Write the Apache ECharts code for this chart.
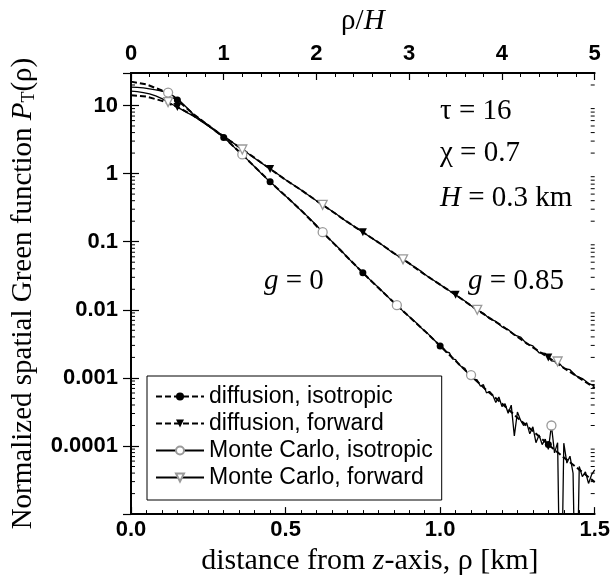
<!DOCTYPE html>
<html>
<head>
<meta charset="utf-8">
<script src="https://cdn.jsdelivr.net/npm/echarts@6/dist/echarts.min.js"></script>
<style>
  html, body { margin: 0; padding: 0; background: #fff; }
  #main { width: 613px; height: 581px; }
</style>
</head>
<body>
<div id="main"></div>
<script>
// Radial distance grids (km)
const rhoDiff = [0, 0.05, 0.1, 0.15, 0.2, 0.25, 0.3, 0.35, 0.4, 0.45, 0.5, 0.55, 0.6, 0.65, 0.7, 0.75,
  0.8, 0.85, 0.9, 0.95, 1.0, 1.05, 1.1, 1.15, 1.2, 1.25, 1.3, 1.35, 1.4, 1.45, 1.5];

// Diffusion approximation, isotropic scattering (g = 0)
const diffIso = [22.4, 20.4, 16.6, 12.0, 7.6, 5.1, 3.4, 2.1, 1.26, 0.76, 0.47, 0.29, 0.17, 0.10, 0.059, 0.035,
  0.021, 0.0129, 0.0079, 0.0049, 0.00295, 0.00178, 0.00107, 0.00066, 0.00042, 0.00026, 0.000166, 0.000105,
  0.000068, 0.000045, 0.0000295];

// Diffusion approximation, forward scattering (g = 0.85)
const diffFwd = [14.1, 13.5, 11.7, 9.5, 7.2, 5.1, 3.5, 2.45, 1.70, 1.17, 0.81, 0.575, 0.40, 0.28, 0.195, 0.138,
  0.098, 0.068, 0.048, 0.033, 0.0234, 0.0166, 0.0115, 0.0081, 0.0058, 0.0040, 0.0028, 0.0020, 0.0014, 0.0010,
  0.00071];

// Monte Carlo, isotropic scattering
const rhoMcIso = [0, 0.02, 0.04, 0.06, 0.08, 0.1, 0.12, 0.14, 0.16, 0.18, 0.2, 0.22, 0.24, 0.26, 0.28, 0.3,
  0.32, 0.34, 0.36, 0.38, 0.4, 0.42, 0.44, 0.46, 0.48, 0.5, 0.52, 0.54, 0.56, 0.58, 0.6, 0.62, 0.64, 0.66,
  0.68, 0.7, 0.72, 0.74, 0.76, 0.78, 0.8, 0.82, 0.84, 0.86, 0.88, 0.9, 0.92, 0.94, 0.96, 0.98, 1.0,
  1.01, 1.02, 1.03, 1.04, 1.05, 1.06, 1.07, 1.08, 1.09, 1.1, 1.11, 1.12, 1.13, 1.14, 1.15, 1.16, 1.17,
  1.18, 1.19, 1.2, 1.21, 1.22, 1.23, 1.24, 1.25, 1.26, 1.27, 1.28, 1.29, 1.3, 1.31, 1.32, 1.33, 1.34,
  1.35, 1.36, 1.37, 1.38, 1.39, 1.4, 1.41, 1.42, 1.43, 1.44, 1.45, 1.46, 1.47, 1.48, 1.49, 1.5];
const mcIso = [18.6, 18.4, 18.2, 17.6, 17.0, 16.2, 15.5, 13.5, 11.5, 9.33, 7.59, 6.46, 5.50, 4.68, 3.98, 3.39,
  2.82, 2.29, 1.91, 1.55, 1.26, 1.02, 0.832, 0.692, 0.562, 0.468, 0.389, 0.316, 0.263, 0.214, 0.174, 0.138,
  0.112, 0.0912, 0.0741, 0.0589, 0.0479, 0.0389, 0.0316, 0.0257, 0.0214, 0.0174, 0.0141, 0.0117, 0.00955,
  0.00794, 0.00661, 0.00537, 0.00447, 0.00363, 0.00295,
  0.00275, 0.00240, 0.00234, 0.00191, 0.00186, 0.00158, 0.00145, 0.00138, 0.00112, 0.00110, 0.000955,
  0.000933, 0.000759, 0.000794, 0.000603, 0.000631, 0.000562, 0.000437, 0.000525, 0.000380, 0.000417,
  0.000302, 0.000398, 0.000141, 0.000316, 0.000240, 0.000200, 0.000219, 0.000151, 0.000191, 0.000112,
  0.000145, 0.000105, 0.000126, 0.0000891, 0.000200, 0.0000794, 0.000112, 1e-7, 0.000110, 0.0000562,
  0.0000708, 0.0000398, 1e-7, 0.0000501, 0.0000355, 0.0000417, 0.0000282, 0.0000380, 0.0000447];

// Monte Carlo, forward scattering
const rhoMcFwd = [0, 0.02, 0.04, 0.06, 0.08, 0.1, 0.12, 0.14, 0.16, 0.18, 0.2, 0.22, 0.24, 0.26, 0.28, 0.3,
  0.32, 0.34, 0.36, 0.38, 0.4, 0.42, 0.44, 0.46, 0.48, 0.5, 0.52, 0.54, 0.56, 0.58, 0.6, 0.62, 0.64, 0.66,
  0.68, 0.7, 0.72, 0.74, 0.76, 0.78, 0.8, 0.82, 0.84, 0.86, 0.88, 0.9, 0.92, 0.94, 0.96, 0.98, 1.0, 1.02,
  1.04, 1.06, 1.08, 1.1, 1.12, 1.14, 1.16, 1.18, 1.2, 1.22, 1.24, 1.26, 1.28, 1.3, 1.32, 1.34, 1.36, 1.38,
  1.4, 1.42, 1.44, 1.46, 1.48, 1.5];
const mcFwd = [16.2, 16.0, 15.5, 14.8, 13.8, 12.6, 11.2, 10.0, 8.91, 7.94, 7.08, 6.17, 5.37, 4.68, 4.07, 3.55,
  3.05, 2.63, 2.26, 1.95, 1.68, 1.45, 1.26, 1.10, 0.944, 0.813, 0.708, 0.617, 0.537, 0.462, 0.398, 0.347,
  0.302, 0.263, 0.224, 0.195, 0.170, 0.148, 0.129, 0.112, 0.0977, 0.0851, 0.0724, 0.0631, 0.0550, 0.0479,
  0.0417, 0.0363, 0.0309, 0.0269, 0.0234, 0.0204, 0.0178, 0.0155, 0.0135, 0.0115, 0.0100, 0.00891, 0.00741,
  0.00676, 0.00562, 0.00513, 0.00427, 0.00398, 0.00316, 0.00295, 0.00234, 0.00229, 0.00178, 0.00174,
  0.00138, 0.00132, 0.00107, 0.000977, 0.000832, 0.000759];

// Positions (km) where each curve carries a symbol
const diffIsoMarks = [0.15, 0.3, 0.45, 0.75, 1.0, 1.35];
const diffFwdMarks = [0.15, 0.45, 0.75, 1.05, 1.35];
const mcIsoMarks = [0.12, 0.36, 0.62, 0.86, 1.1, 1.36];
const mcFwdMarks = [0.12, 0.36, 0.62, 0.88, 1.12, 1.38];

// Axis tick labels
const yTickLabels = { '-4': '0.0001', '-3': '0.001', '-2': '0.01', '-1': '0.1', '0': '1', '1': '10' };
const bottomTickLabels = ['0.0', '0.5', '1.0', '1.5'];
const topTickLabels = ['0', '1', '2', '3', '4', '5'];

const seriesNames = ['diffusion, isotropic', 'diffusion, forward', 'Monte Carlo, isotropic', 'Monte Carlo, forward'];

function buildData(xs, ys, marks) {
  return xs.map((x, i) => {
    const hit = marks.some(m => Math.abs(m - x) < 1e-6);
    return hit ? { value: [x, ys[i]] } : { value: [x, ys[i]], symbol: 'none' };
  });
}

// Minor log ticks (2..9 in each decade), drawn on both vertical axes
const minorLogTicks = [];
for (let n = -5; n <= 1; n++) {
  for (let m = 2; m <= 9; m++) {
    const v = m * Math.pow(10, n);
    if (v > 1e-5 && v < 30) minorLogTicks.push([0, v]);
  }
}

const SANS = '"Liberation Sans", Arial, Helvetica, sans-serif';
const SERIF = '"Liberation Serif", "Times New Roman", serif';

const axisLineStyle = { color: '#000', width: 1.8 };
const labelStyle = { fontFamily: SANS, fontWeight: 'bold', fontSize: 22, color: '#000' };

const chart = echarts.init(document.getElementById('main'), null, { renderer: 'canvas' });

chart.setOption({
  animation: false,
  backgroundColor: '#fff',
  grid: { left: 131, right: 17, top: 73, bottom: 65, containLabel: false },
  xAxis: [
    {
      type: 'value', position: 'bottom', min: 0, max: 1.5, interval: 0.5,
      axisLine: { show: true, lineStyle: axisLineStyle },
      axisTick: { show: true, inside: true, length: 7, lineStyle: { color: '#000', width: 1.2 } },
      minorTick: { show: true, splitNumber: 10, length: 4, lineStyle: { color: '#000', width: 1 } },
      splitLine: { show: false },
      axisLabel: Object.assign({ margin: 5, formatter: v => bottomTickLabels[Math.round(v / 0.5)] }, labelStyle),
      name: 'distance from {i|z}-axis, ρ [km]',
      nameLocation: 'middle', nameGap: 30,
      nameTextStyle: {
        fontFamily: SERIF, fontSize: 30, color: '#000', padding: [0, 0, 0, 14],
        rich: { i: { fontFamily: SERIF, fontSize: 30, fontStyle: 'italic', color: '#000' } }
      }
    },
    {
      type: 'value', position: 'top', min: 0, max: 5, interval: 1,
      axisLine: { show: true, lineStyle: axisLineStyle },
      axisTick: { show: true, inside: true, length: 7, lineStyle: { color: '#000', width: 1.2 } },
      minorTick: { show: true, splitNumber: 5, length: 4, lineStyle: { color: '#000', width: 1 } },
      splitLine: { show: false },
      axisLabel: Object.assign({ margin: 8, formatter: v => topTickLabels[Math.round(v)] }, labelStyle),
      name: 'ρ/{i|H}',
      nameLocation: 'middle', nameGap: 37,
      nameTextStyle: {
        fontFamily: SERIF, fontSize: 29, color: '#000',
        rich: { i: { fontFamily: SERIF, fontSize: 29, fontStyle: 'italic', color: '#000' } }
      }
    }
  ],
  yAxis: [
    {
      type: 'log', logBase: 10, position: 'left', min: 1e-5, max: 30,
      axisLine: { show: true, lineStyle: axisLineStyle },
      axisTick: { show: true, inside: true, length: 8, lineStyle: { color: '#000', width: 1.2 } },
      splitLine: { show: false },
      axisLabel: Object.assign({
        margin: 13, showMinLabel: false, showMaxLabel: false,
        formatter: v => yTickLabels[String(Math.round(Math.log10(v)))] || ''
      }, labelStyle),
      name: 'Normalized spatial Green function {i|P}{sub|T}(ρ)',
      nameLocation: 'middle', nameGap: 93,
      nameTextStyle: {
        fontFamily: SERIF, fontSize: 29, color: '#000',
        rich: {
          i: { fontFamily: SERIF, fontSize: 29, fontStyle: 'italic', color: '#000' },
          sub: { fontFamily: SERIF, fontSize: 18, color: '#000', verticalAlign: 'bottom', lineHeight: 14 }
        }
      }
    },
    {
      type: 'log', logBase: 10, position: 'right', min: 1e-5, max: 30,
      axisLine: { show: true, lineStyle: axisLineStyle },
      axisTick: { show: true, inside: true, length: 8, lineStyle: { color: '#000', width: 1.2 } },
      splitLine: { show: false },
      axisLabel: { show: false }
    }
  ],
  legend: {
    data: seriesNames,
    orient: 'vertical',
    left: 147, top: 376,
    padding: [9, 9, 11, 8],
    itemGap: 4,
    itemWidth: 48, itemHeight: 10,
    borderColor: '#000', borderWidth: 1, backgroundColor: '#fff',
    textStyle: { fontFamily: SANS, fontSize: 23, color: '#000' }
  },
  graphic: [
    { type: 'text', left: 440, top: 97, style: { text: 'τ = 16', fontFamily: SERIF, fontSize: 29, fill: '#000' } },
    { type: 'text', left: 440, top: 139, style: { text: 'χ = 0.7', fontFamily: SERIF, fontSize: 29, fill: '#000' } },
    { type: 'text', left: 440, top: 184, style: {
        text: '{i|H} = 0.3 km', fontFamily: SERIF, fontSize: 29, fill: '#000',
        rich: { i: { fontFamily: SERIF, fontSize: 29, fontStyle: 'italic', fill: '#000' } } } },
    { type: 'text', left: 468, top: 267, style: {
        text: '{i|g} = 0.85', fontFamily: SERIF, fontSize: 29, fill: '#000',
        rich: { i: { fontFamily: SERIF, fontSize: 29, fontStyle: 'italic', fill: '#000' } } } },
    { type: 'text', left: 264, top: 267, style: {
        text: '{i|g} = 0', fontFamily: SERIF, fontSize: 29, fill: '#000',
        rich: { i: { fontFamily: SERIF, fontSize: 29, fontStyle: 'italic', fill: '#000' } } } }
  ],
  series: [
    {
      name: seriesNames[0], type: 'line', xAxisIndex: 0, yAxisIndex: 0,
      data: buildData(rhoDiff, diffIso, diffIsoMarks),
      symbol: 'circle', symbolSize: 7, showSymbol: true,
      lineStyle: { color: '#000', width: 2, type: [6, 3] },
      itemStyle: { color: '#000', borderColor: '#000', borderWidth: 0 },
      z: 3
    },
    {
      name: seriesNames[1], type: 'line', xAxisIndex: 0, yAxisIndex: 0,
      data: buildData(rhoDiff, diffFwd, diffFwdMarks),
      symbol: 'triangle', symbolRotate: 180, symbolSize: 8, showSymbol: true,
      lineStyle: { color: '#000', width: 2, type: [6, 3] },
      itemStyle: { color: '#000', borderColor: '#000', borderWidth: 0 },
      z: 3
    },
    {
      name: seriesNames[2], type: 'line', xAxisIndex: 0, yAxisIndex: 0,
      data: buildData(rhoMcIso, mcIso, mcIsoMarks),
      symbol: 'circle', symbolSize: 9, showSymbol: true,
      lineStyle: { color: '#000', width: 1.3 },
      itemStyle: { color: '#fff', borderColor: '#9a9a9a', borderWidth: 1.3 },
      z: 4
    },
    {
      name: seriesNames[3], type: 'line', xAxisIndex: 0, yAxisIndex: 0,
      data: buildData(rhoMcFwd, mcFwd, mcFwdMarks),
      symbol: 'triangle', symbolRotate: 180, symbolSize: 9, showSymbol: true,
      lineStyle: { color: '#000', width: 1.3 },
      itemStyle: { color: '#fff', borderColor: '#9a9a9a', borderWidth: 1.3 },
      z: 4
    },
    {
      name: 'logMinorTicks', type: 'custom', xAxisIndex: 0, yAxisIndex: 0,
      silent: true, clip: false,
      data: minorLogTicks,
      renderItem: function (params, api) {
        const p = api.coord([0, api.value(1)]);
        const x0 = params.coordSys.x;
        const x1 = x0 + params.coordSys.width;
        const st = { stroke: '#000', lineWidth: 1 };
        return {
          type: 'group',
          children: [
            { type: 'line', shape: { x1: x0, y1: p[1], x2: x0 + 4, y2: p[1] }, style: st },
            { type: 'line', shape: { x1: x1 - 4, y1: p[1], x2: x1, y2: p[1] }, style: st }
          ]
        };
      }
    }
  ]
});
</script>
</body>
</html>
